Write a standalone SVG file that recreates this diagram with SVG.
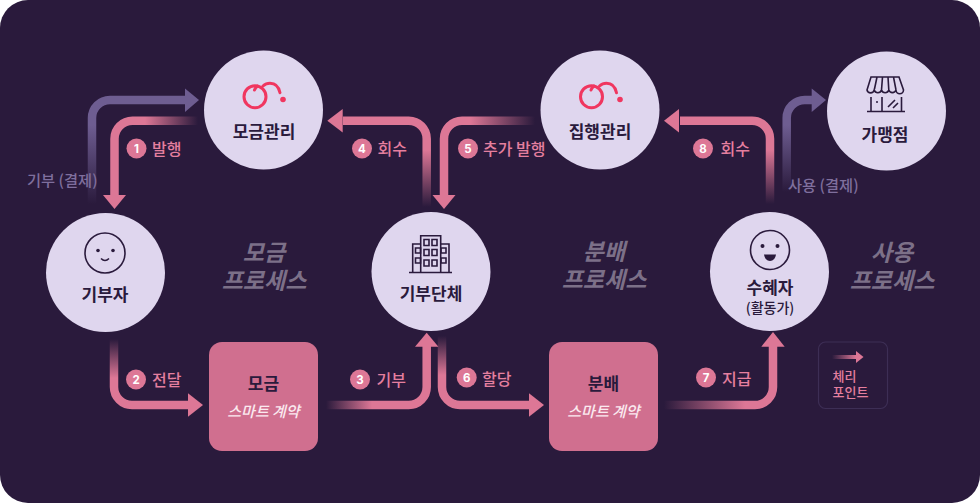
<svg xmlns="http://www.w3.org/2000/svg" width="980" height="503" viewBox="0 0 980 503">
<style>
text{font-family:"Noto Sans CJK KR","Noto Sans",sans-serif}
.c{fill:#dfd6ee}
.n{font-size:17px;font-weight:700;fill:#2a1a3c;text-anchor:middle}
.l{font-size:16px;font-weight:500;fill:#e57f9f}
.g{font-size:15.300px;font-weight:500;fill:#7f6f9d}
.b{fill:#dd7796}
.d{font-size:11.500px;font-weight:700;fill:#fff;text-anchor:middle;font-family:"Inter","Liberation Sans",sans-serif}
.p{font-size:23px;font-weight:700;font-style:italic;fill:#7c7088;text-anchor:middle}
.s{font-size:15px;font-weight:500;font-style:italic;fill:#fbe9ef;text-anchor:middle}
.box{fill:#d06f8f}
.w{fill:none;stroke-width:8.500;stroke-linejoin:round}
.h{fill:#dd7796}
.hp{fill:#6e5d91}
.i{fill:none;stroke:#2a1a3c;stroke-width:1.600}
.r{fill:none;stroke:#f0365f;stroke-width:3;stroke-linecap:round}
</style>
<defs>
<linearGradient id="g1" gradientUnits="userSpaceOnUse" x1="198" y1="0" x2="145" y2="0"><stop offset="0" stop-color="#dd7796" stop-opacity="0"/><stop offset="1" stop-color="#dd7796"/></linearGradient>
<linearGradient id="g4" gradientUnits="userSpaceOnUse" x1="0" y1="207" x2="0" y2="150"><stop offset="0" stop-color="#dd7796" stop-opacity="0"/><stop offset="1" stop-color="#dd7796"/></linearGradient>
<linearGradient id="g5" gradientUnits="userSpaceOnUse" x1="535" y1="0" x2="470" y2="0"><stop offset="0" stop-color="#dd7796" stop-opacity="0"/><stop offset="1" stop-color="#dd7796"/></linearGradient>
<linearGradient id="g8" gradientUnits="userSpaceOnUse" x1="0" y1="204" x2="0" y2="150"><stop offset="0" stop-color="#dd7796" stop-opacity="0"/><stop offset="1" stop-color="#dd7796"/></linearGradient>
<linearGradient id="g2" gradientUnits="userSpaceOnUse" x1="0" y1="339" x2="0" y2="378"><stop offset="0" stop-color="#dd7796" stop-opacity="0"/><stop offset="1" stop-color="#dd7796"/></linearGradient>
<linearGradient id="g3" gradientUnits="userSpaceOnUse" x1="326" y1="0" x2="372" y2="0"><stop offset="0" stop-color="#dd7796" stop-opacity="0"/><stop offset="1" stop-color="#dd7796"/></linearGradient>
<linearGradient id="g6" gradientUnits="userSpaceOnUse" x1="0" y1="336" x2="0" y2="375"><stop offset="0" stop-color="#dd7796" stop-opacity="0"/><stop offset="1" stop-color="#dd7796"/></linearGradient>
<linearGradient id="g7" gradientUnits="userSpaceOnUse" x1="664" y1="0" x2="745" y2="0"><stop offset="0" stop-color="#dd7796" stop-opacity="0"/><stop offset="1" stop-color="#dd7796"/></linearGradient>
<linearGradient id="gl" gradientUnits="userSpaceOnUse" x1="832" y1="0" x2="856" y2="0"><stop offset="0" stop-color="#dd7796" stop-opacity="0"/><stop offset="1" stop-color="#dd7796"/></linearGradient>
<linearGradient id="gp1" gradientUnits="userSpaceOnUse" x1="0" y1="204" x2="0" y2="125"><stop offset="0" stop-color="#6e5d91" stop-opacity="0"/><stop offset="1" stop-color="#6e5d91"/></linearGradient>
<linearGradient id="gp2" gradientUnits="userSpaceOnUse" x1="0" y1="192" x2="0" y2="125"><stop offset="0" stop-color="#6e5d91" stop-opacity="0"/><stop offset="1" stop-color="#6e5d91"/></linearGradient>
</defs>
<rect width="980" height="503" fill="#fff"/>
<rect id="background" width="980" height="503" rx="28" fill="#2a1a3c"/>

<g id="connectors">
<path class="w" stroke="url(#gp1)" d="M92 204V118a18 18 0 0 1 18-18H186"/><polygon class="hp" points="185,88.500 199,100 185,112"/>
<path class="w" stroke="url(#g1)" d="M198 120.700H132.500a18 18 0 0 0-18 18V196"/><polygon class="h" points="103,195 126,195 114.500,209"/>
<path class="w" stroke="url(#g4)" d="M426.700 207V138.700a18 18 0 0 0-18-18H343"/><polygon class="h" points="342.700,109 342.700,132.400 327.300,120.700"/>
<path class="w" stroke="url(#g5)" d="M535 120.700H462a18 18 0 0 0-18 18V196"/><polygon class="h" points="432.500,195 455.500,195 444,209"/>
<path class="w" stroke="url(#g8)" d="M770 204V138.700a18 18 0 0 0-18-18H680"/><polygon class="h" points="679,109 679,132.400 664,120.700"/>
<path class="w" stroke="url(#gp2)" d="M786.700 192V118a18 18 0 0 1 18-18H813"/><polygon class="hp" points="811.700,88.500 826,100 811.700,112"/>
<path class="w" stroke="url(#g2)" d="M114 339V387a18 18 0 0 0 18 18H189"/><polygon class="h" points="188,393.300 203,405 188,416.700"/>
<path class="w" stroke="url(#g3)" d="M326 405H408.700a18 18 0 0 0 18-18V346"/><polygon class="h" points="415,346.700 438.400,346.700 426.700,332.700"/>
<path class="w" stroke="url(#g6)" d="M442 336V387a18 18 0 0 0 18 18H530"/><polygon class="h" points="529,393.300 544,405 529,416.700"/>
<path class="w" stroke="url(#g7)" d="M664 405H755a18 18 0 0 0 18-18V346"/><polygon class="h" points="761.300,346.700 784.700,346.700 773,332"/>
</g>

<g id="donor"><circle class="c" cx="105.500" cy="272.500" r="59.500"/>
<circle class="i" cx="105" cy="253" r="20" stroke-width="1.800"/><circle cx="98" cy="250.500" r="1.800" fill="#2a1a3c"/><circle cx="113" cy="250.500" r="1.800" fill="#2a1a3c"/><path class="i" d="M101 258.500q4 4 8 0"/>
<text class="n" x="105" y="301">기부자</text></g>

<g id="fund-mgmt"><circle class="c" cx="263.500" cy="110" r="59.500"/>
<circle class="r" cx="255" cy="96.700" r="11"/><path class="r" d="M254.500 90q1-2.500 3-4M263 86q3-2.800 7-2.800q8 0 10 9.500"/><circle cx="283" cy="99.500" r="2.800" fill="#f0365f"/>
<text class="n" x="264" y="138">모금관리</text></g>

<g id="org"><circle class="c" cx="431" cy="271.500" r="59.500"/>
<path class="i" d="M409 272.500H452M420.700 272V235.700H440.700V272M420.700 244H412.700V272M440.700 244H449V272"/>
<path class="i" d="M424 239.500h5v6h-5zM432 239.500h5v6h-5zM424 249.500h5v6h-5zM432 249.500h5v6h-5zM424 260h5v6h-5zM432 260h5v6h-5zM415.500 248h5v5h-5zM415.500 258h5v5h-5zM441 248h5v5h-5zM441 258h5v5h-5z" stroke-width="1.300"/>
<text class="n" x="431" y="300">기부단체</text></g>

<g id="exec-mgmt"><circle class="c" cx="600" cy="110" r="59.500"/>
<circle class="r" cx="591.500" cy="96.700" r="11"/><path class="r" d="M591 90q1-2.500 3-4M599.500 86q3-2.800 7-2.800q8 0 10 9.500"/><circle cx="620" cy="99.500" r="2.800" fill="#f0365f"/>
<text class="n" x="600" y="138">집행관리</text></g>

<g id="store"><circle class="c" cx="886.500" cy="111" r="59.500"/>
<path class="i" d="M871 77H899L903.500 90a3.700 3.700 0 0 1-7.500 0a3.800 3.800 0 0 1-7.200 0a3.800 3.800 0 0 1-7.300 0a3.800 3.800 0 0 1-7.300 0a3.700 3.700 0 0 1-7.200 0ZM874.500 89L877 77M881.500 90L882.500 77M888.800 90L888 77M896 90L893.500 77"/>
<path class="i" d="M867 111.500H905M871 111V97M882 111V97M901.500 111V97M888 107l7-7M893 108l5-5"/><circle cx="877" cy="102" r="1" fill="#2a1a3c"/>
<text class="n" x="885" y="141">가맹점</text></g>

<g id="recipient"><circle class="c" cx="769.500" cy="271.500" r="59.500"/>
<circle class="i" cx="770" cy="250" r="19.500" stroke-width="1.800"/><circle cx="762.500" cy="246" r="2" fill="#2a1a3c"/><circle cx="777.500" cy="246" r="2" fill="#2a1a3c"/><path d="M764 254.500h12q-1 6.500-6 6.500t-6-6.500z" fill="#2a1a3c"/>
<text class="n" x="770" y="294">수혜자</text><text class="n" x="770" y="312.500" style="font-size:14px;font-weight:500">(활동가)</text></g>

<g id="sc-fund"><rect class="box" x="209" y="342" width="109" height="109" rx="13"/><text class="n" x="263.500" y="390">모금</text><text class="s" x="263.500" y="416.500">스마트 계약</text></g>
<g id="sc-dist"><rect class="box" x="549" y="342" width="109" height="109" rx="13"/><text class="n" x="603.500" y="390">분배</text><text class="s" x="603.500" y="416.500">스마트 계약</text></g>

<g id="labels">
<text class="g" x="27" y="186">기부 (결제)</text><text class="g" x="788" y="191">사용 (결제)</text>
<circle class="b" cx="136.500" cy="148.500" r="10"/><text class="d" x="136.500" y="152.700">1</text><text class="l" x="152" y="155">발행</text>
<circle class="b" cx="362" cy="148.500" r="10"/><text class="d" x="362" y="152.700">4</text><text class="l" x="377.500" y="155">회수</text>
<circle class="b" cx="468" cy="148.500" r="10"/><text class="d" x="468" y="152.700">5</text><text class="l" x="483" y="155">추가 발행</text>
<circle class="b" cx="703" cy="148.500" r="10"/><text class="d" x="703" y="152.700">8</text><text class="l" x="720.500" y="155">회수</text>
<circle class="b" cx="136" cy="379.500" r="10"/><text class="d" x="136" y="383.700">2</text><text class="l" x="152" y="386">전달</text>
<circle class="b" cx="360" cy="379.500" r="10"/><text class="d" x="360" y="383.700">3</text><text class="l" x="376.500" y="386">기부</text>
<circle class="b" cx="466.700" cy="377.500" r="10"/><text class="d" x="466.700" y="381.700">6</text><text class="l" x="482" y="385">할당</text>
<circle class="b" cx="706" cy="377.500" r="10"/><text class="d" x="706" y="381.700">7</text><text class="l" x="722" y="385">지급</text>
<text class="p" x="264" y="261">모금</text><text class="p" x="264" y="289">프로세스</text>
<text class="p" x="604" y="260">분배</text><text class="p" x="604" y="288">프로세스</text>
<text class="p" x="892" y="261">사용</text><text class="p" x="892" y="289">프로세스</text>
</g>

<g id="legend"><rect x="818.500" y="342" width="69" height="66.500" rx="7" fill="none" stroke="#3d2e55" stroke-width="1.200"/>
<path d="M832 357H857" stroke="url(#gl)" stroke-width="4" fill="none"/><polygon class="h" points="856,351 863.500,357 856,363"/>
<text class="l" x="832.500" y="381" style="font-size:13px">체리</text><text class="l" x="832.500" y="397" style="font-size:13px">포인트</text></g>
</svg>
